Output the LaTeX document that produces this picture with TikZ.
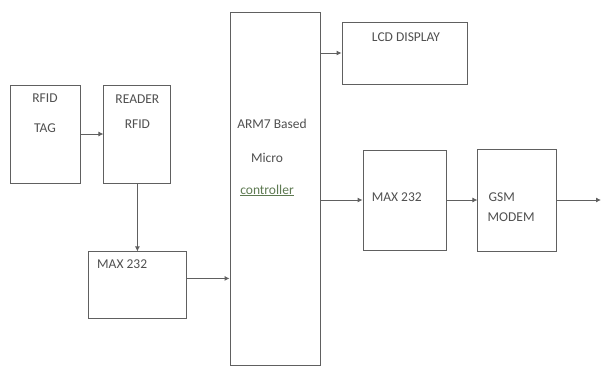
\documentclass[tikz,border=0pt]{standalone}
\usepackage{fontspec}
\setmainfont{Carlito}
\usepackage{tikz}
\usetikzlibrary{arrows.meta, positioning, calc}
\definecolor{linegray}{HTML}{606060}
\definecolor{textgray}{HTML}{505050}
\definecolor{spellgreen}{HTML}{5E7A52}
\tikzset{
    box/.style={rectangle, draw=linegray, line width=0.9pt, fill=white, inner sep=0pt},
    txt/.style={font=\fontsize{13.5}{15}\selectfont, text=textgray, inner sep=0pt, anchor=base},
    txtl/.style={txt, anchor=base west},
    line/.style={draw=linegray, line width=0.9pt, -{Latex[length=5pt,width=5pt]}}
}

\begin{document}
\begin{tikzpicture}[x=1pt, y=1pt]
    \useasboundingbox (0,0) rectangle (602,-367);

    % Nodes
    \node [box, minimum width=70pt, minimum height=98pt] (tag) at (45,-134) {};
    \node [box, minimum width=67pt, minimum height=98pt, right=23pt of tag] (reader) {};
    \node [box, minimum width=98pt, minimum height=67pt, below=68pt of reader] (max1) {};

    \node [box, minimum width=90pt, minimum height=353pt] (arm) at (275,-188.5) {};
    \node [box, minimum width=125pt, minimum height=62pt] (lcd) at (404.5,-53) {};
    \node [box, minimum width=83pt, minimum height=100pt] (max2) at (404.5,-200) {};
    \node [box, minimum width=79pt, minimum height=102pt, right=31pt of max2] (gsm) {};
    \coordinate (out) at (601,-200);

    % Texts
    \node [txt] (tagA) at ([yshift=-17.5pt]tag.north) {RFID};
    \node [txt] (tagB) at ([yshift=-47.5pt]tag.north) {TAG};
    \node [txt] (readerA) at ([yshift=-18.5pt]reader.north) {READER};
    \node [txt] (readerB) at ([yshift=-43.5pt]reader.north) {RFID};
    \node [txtl] (max1A) at ([xshift=9pt, yshift=-17.5pt]max1.north west) {MAX 232};
    \node [txt] (armA) at ([xshift=-3pt, yshift=-117pt]arm.north) {ARM7 Based};
    \node [txt] (armB) at ([xshift=-8pt, yshift=-150.5pt]arm.north) {Micro};
    \node [txt, text=spellgreen] (armC) at ([xshift=-8pt, yshift=-182.5pt]arm.north) {\underline{controller}};
    \node [txt] (lcdA) at ([xshift=1.5pt, yshift=-19.5pt]lcd.north) {LCD DISPLAY};
    \node [txtl] (max2A) at ([xshift=9pt, yshift=-51.5pt]max2.north west) {MAX 232};
    \node [txtl] (gsmA) at ([xshift=11pt, yshift=-52.5pt]gsm.north west) {GSM};
    \node [txtl] (gsmB) at ([xshift=10pt, yshift=-72.5pt]gsm.north west) {MODEM};

    % Paths
    \path [line] (tag) -- (reader);
    \path [line] (reader) -- (max1);
    \path [line] ([yshift=7pt]max1.east) -- ([yshift=7pt]max1.east -| arm.west);
    \path [line] (lcd.west -| arm.east) -- (lcd.west);
    \path [line] (max2.west -| arm.east) -- (max2.west);
    \path [line] (max2) -- (gsm);
    \path [line] (gsm.east) -- (out);
\end{tikzpicture}
\end{document}
